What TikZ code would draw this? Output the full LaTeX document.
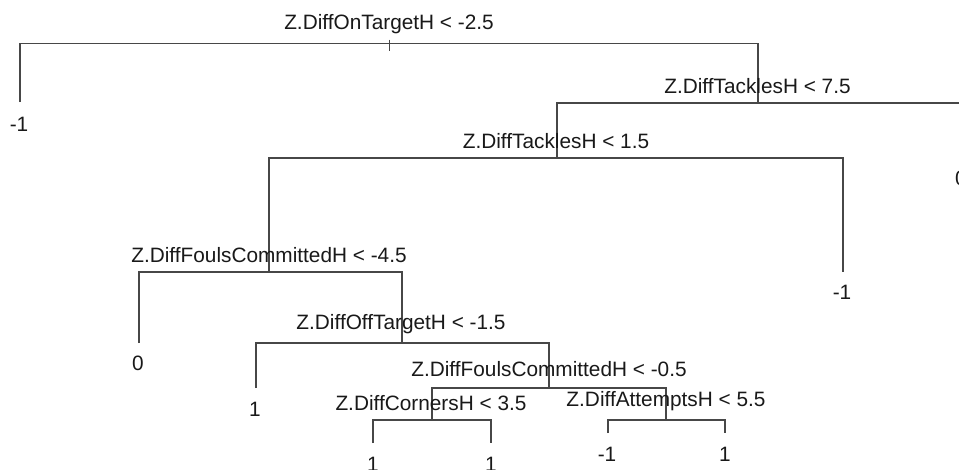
\documentclass[tikz,border=0pt]{standalone}
\usepackage{fontspec}
\setmainfont{Liberation Sans}
\begin{document}
\begin{tikzpicture}[x=1pt,y=-1pt,
  branch/.style={draw=black!72,line width=1.1pt},
  splitlab/.style={anchor=base,inner sep=0pt,font=\fontsize{20.8}{25}\selectfont,text=black!90},
  leaflab/.style={anchor=base,inner sep=0pt,font=\fontsize{20.8}{25}\selectfont,text=black!90}]
\useasboundingbox (0,0) rectangle (959,469);
\clip (0,0) rectangle (959,469);
\fill[white] (0,0) rectangle (959,469);

% split points (top of each horizontal bar)
\coordinate (s1) at (389,43.5);
\coordinate (s2) at (758,103);
\coordinate (s3) at (557,158);
\coordinate (s4) at (269,272);
\coordinate (s5) at (402,343);
\coordinate (s6) at (549,388);
\coordinate (s7) at (432,420);
\coordinate (s8) at (666,420);

% leaf ends
\coordinate (l1) at (20,102);
\coordinate (l9) at (962,157);
\coordinate (l2) at (843,272);
\coordinate (l3) at (139,343);
\coordinate (l4) at (256,388);
\coordinate (l5) at (373,443);
\coordinate (l6) at (491,443);
\coordinate (l7) at (608,433);
\coordinate (l8) at (725,433);

% branches
\draw[branch] (l1) |- (s1) -| (s2);
\draw[branch] (s3) |- (s2) -| (l9);
\draw[branch] (s4) |- (s3) -| (l2);
\draw[branch] (l3) |- (s4) -| (s5);
\draw[branch] (l4) |- (s5) -| (s6);
\draw[branch] (s7) |- (s6) -| (s8);
\draw[branch] (l5) |- (s7) -| (l6);
\draw[branch] (l7) |- (s8) -| (l8);

% root stem
\coordinate (r0) at (389,39.5);
\coordinate (r1) at (389,51);
\draw[branch,line width=0.9pt] (r0) -- (r1);

% split labels
\node[splitlab] (t1) at (389,29.5) {Z.DiffOnTargetH < -2.5};
\node[splitlab] (t2) at (757.5,93) {Z.DiffTacklesH < 7.5};
\node[splitlab] (t3) at (556,148) {Z.DiffTacklesH < 1.5};
\node[splitlab] (t4) at (269,262) {Z.DiffFoulsCommittedH < -4.5};
\node[splitlab] (t5) at (401,329.5) {Z.DiffOffTargetH < -1.5};
\node[splitlab] (t6) at (549,376) {Z.DiffFoulsCommittedH < -0.5};
\node[splitlab] (t7) at (431,410) {Z.DiffCornersH < 3.5};
\node[splitlab] (t8) at (666,406) {Z.DiffAttemptsH < 5.5};

% leaf labels
\node[leaflab] (v1) at (19,131) {-1};
\node[leaflab] (v9) at (961,185) {0};
\node[leaflab] (v2) at (842,299) {-1};
\node[leaflab] (v3) at (138,370) {0};
\node[leaflab] (v4) at (255,416) {1};
\node[leaflab] (v5) at (373,471) {1};
\node[leaflab] (v6) at (491,471) {1};
\node[leaflab] (v7) at (607,461) {-1};
\node[leaflab] (v8) at (725,461) {1};
\end{tikzpicture}
\end{document}
